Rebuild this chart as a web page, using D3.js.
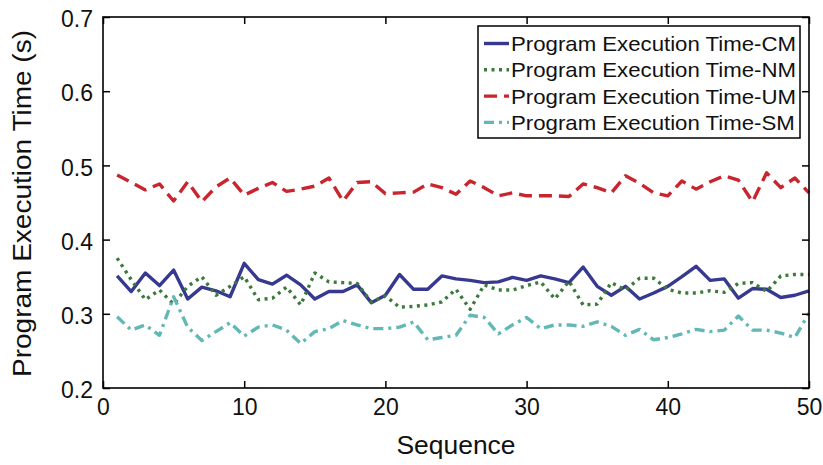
<!DOCTYPE html>
<html><head><meta charset="utf-8">
<script src="https://cdn.jsdelivr.net/npm/d3@7/dist/d3.min.js"></script>
<style>body{margin:0;background:#fff}svg{display:block}text{font-family:"Liberation Sans",Arial,sans-serif;fill:#111}</style>
</head><body><svg id="c" width="823" height="465"></svg>
<script>
const sequence = d3.range(1, 51);
const seriesNames = ["Program Execution Time-CM","Program Execution Time-NM","Program Execution Time-UM","Program Execution Time-SM"];
const cmValues = [0.351,0.330,0.355,0.338,0.359,0.320,0.336,0.331,0.323,0.368,0.346,0.340,0.352,0.339,0.320,0.330,0.330,0.339,0.315,0.325,0.353,0.333,0.333,0.351,0.347,0.345,0.342,0.343,0.349,0.345,0.351,0.347,0.342,0.363,0.337,0.325,0.337,0.320,0.328,0.337,0.350,0.364,0.345,0.347,0.321,0.334,0.333,0.322,0.325,0.331];
const nmValues = [0.375,0.346,0.319,0.332,0.313,0.337,0.350,0.325,0.337,0.350,0.319,0.321,0.336,0.312,0.355,0.343,0.342,0.341,0.316,0.324,0.309,0.310,0.312,0.316,0.333,0.306,0.339,0.332,0.332,0.338,0.343,0.320,0.344,0.312,0.313,0.342,0.332,0.348,0.348,0.333,0.328,0.328,0.331,0.329,0.341,0.342,0.330,0.351,0.353,0.353];
const umValues = [0.487,0.477,0.467,0.475,0.452,0.478,0.451,0.471,0.483,0.460,0.469,0.477,0.465,0.468,0.472,0.483,0.452,0.477,0.478,0.462,0.463,0.464,0.475,0.470,0.461,0.479,0.470,0.459,0.463,0.459,0.459,0.459,0.458,0.475,0.470,0.463,0.486,0.476,0.463,0.459,0.479,0.468,0.478,0.486,0.480,0.451,0.490,0.470,0.483,0.463];
const smValues = [0.296,0.278,0.285,0.271,0.323,0.282,0.264,0.276,0.288,0.270,0.282,0.285,0.278,0.260,0.276,0.280,0.291,0.285,0.280,0.280,0.282,0.289,0.265,0.268,0.271,0.298,0.295,0.273,0.285,0.295,0.280,0.285,0.285,0.283,0.289,0.283,0.271,0.279,0.265,0.268,0.273,0.279,0.276,0.278,0.297,0.278,0.278,0.274,0.268,0.301];
const xTicks = [0,10,20,30,40,50];
const yTicks = [0.2,0.3,0.4,0.5,0.6,0.7];
const colors = ["#36398f","#3b7a3b","#c9252e","#62b8b6"];
const dashes = [null,"3,4.5","13,7","10,5,3,5"];

const svg = d3.select("#c");
const L=103,R=809,T=17,B=388;
const x = d3.scaleLinear().domain([0,50]).range([L,R]);
const y = d3.scaleLinear().domain([0.2,0.7]).range([B,T]);

const allSeries=[cmValues,nmValues,umValues,smValues];
const line = d3.line().x((d,i)=>x(sequence[i])).y(d=>y(d));
const g = svg.append("g");
allSeries.forEach((vals,k)=>{
  g.append("path").attr("d",line(vals)).attr("fill","none")
   .attr("stroke",colors[k]).attr("stroke-width",3.4)
   .attr("stroke-dasharray",dashes[k]).attr("stroke-linejoin","round");
});

// axes
const ax = svg.append("g").attr("transform",`translate(0,${B})`)
  .call(d3.axisBottom(x).tickValues(xTicks).tickSizeInner(-7).tickSizeOuter(0).tickPadding(11));
const ay = svg.append("g").attr("transform",`translate(${L},0)`)
  .call(d3.axisLeft(y).tickValues(yTicks).tickFormat(d3.format(".1f")).tickSizeInner(-7).tickSizeOuter(0).tickPadding(10));
const axT = svg.append("g").attr("transform",`translate(0,${T})`)
  .call(d3.axisTop(x).tickValues(xTicks).tickSizeInner(-7).tickSizeOuter(0).tickFormat(""));
const ayR = svg.append("g").attr("transform",`translate(${R},0)`)
  .call(d3.axisRight(y).tickValues(yTicks).tickSizeInner(-7).tickSizeOuter(0).tickFormat(""));
[ax,ay,axT,ayR].forEach(a=>{
  a.selectAll("path.domain").remove();
  a.selectAll("line").attr("stroke","#000").attr("stroke-width",1.5);
  a.selectAll("text").attr("font-size",23).attr("font-family","'Liberation Sans',Arial,sans-serif").attr("fill","#111");
});
ay.selectAll("text").attr("dy","0.42em");
svg.append("rect").attr("x",L).attr("y",T).attr("width",R-L).attr("height",B-T)
  .attr("fill","none").attr("stroke","#000").attr("stroke-width",1.6);

svg.append("text").attr("x",(L+R)/2).attr("y",454).attr("text-anchor","middle").attr("font-size",25)
  .attr("textLength",119).attr("lengthAdjust","spacingAndGlyphs").text("Sequence");
svg.append("text").attr("transform",`translate(30.5,${(T+B)/2+1}) rotate(-90)`).attr("text-anchor","middle").attr("font-size",25)
  .attr("textLength",347).attr("lengthAdjust","spacingAndGlyphs").text("Program Execution Time (s)");

// legend
const lg = svg.append("g");
lg.append("rect").attr("x",478).attr("y",26).attr("width",322).attr("height",112)
  .attr("fill","#fff").attr("stroke","#000").attr("stroke-width",1.5);
const texts=[];
seriesNames.forEach((n,k)=>{
  const yy=43.5+k*26.3;
  lg.append("line").attr("x1",484).attr("x2",509).attr("y1",yy).attr("y2",yy)
    .attr("stroke",colors[k]).attr("stroke-width",3.4).attr("stroke-dasharray",dashes[k]);
  texts.push(lg.append("text").attr("x",511).attr("y",yy).attr("dy","0.36em").attr("font-size",21).text(n));
});
const base = texts[0].node().getComputedTextLength();
texts.forEach(t=>{const l=t.node().getComputedTextLength(); t.attr("textLength",l*285/base).attr("lengthAdjust","spacingAndGlyphs");});
</script></body></html>
